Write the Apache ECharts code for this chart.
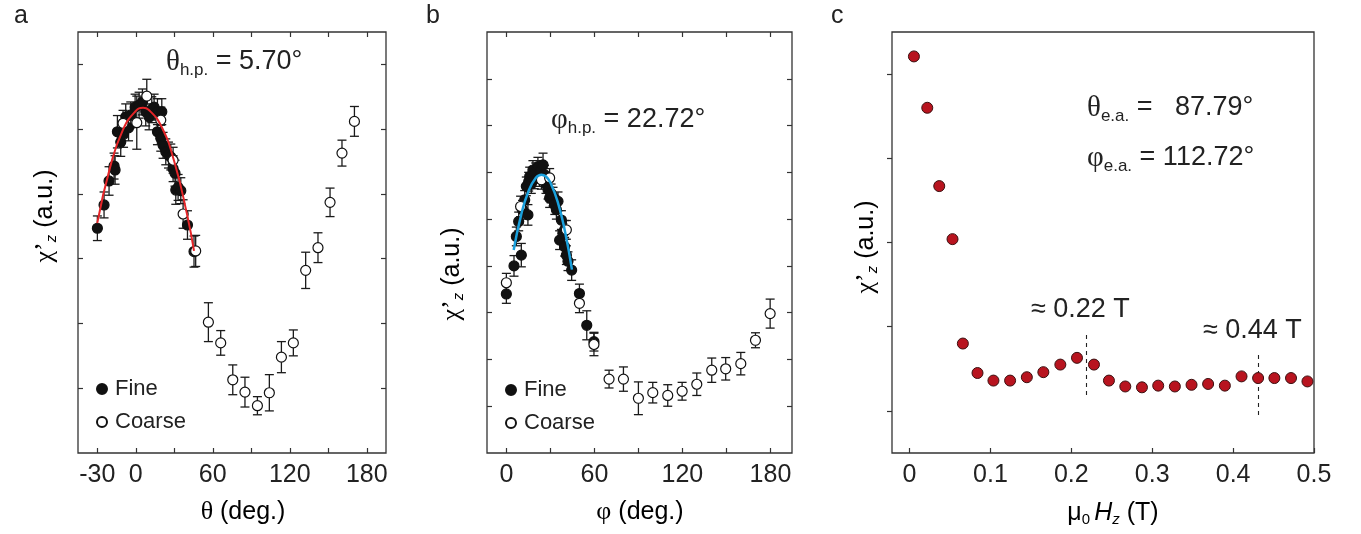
<!DOCTYPE html>
<html><head><meta charset="utf-8">
<script src="https://cdn.jsdelivr.net/npm/echarts@6/dist/echarts.min.js"></script>
<style>html,body{margin:0;padding:0;background:#fff}#c{width:1361px;height:534px}</style>
</head><body><div id="c"></div>
<script>
// ---------- DATA ----------
// panel a: theta scan [theta (deg), chi'z (a.u.), error]
const thetaFine = [[-29.9,3.47,0.19],[-24.7,3.83,0.2],[-20.8,4.20,0.22],[-16.9,4.43,0.2],[-16.1,4.37,0.22],[-14.3,4.96,0.25],[-11.7,4.80,0.22],[-9.5,4.92,0.2],[-7.8,5.19,0.2],[-5.6,5.02,0.2],[-3.9,5.22,0.2],[-0.5,5.34,0.2],[2.6,5.37,0.2],[5.2,5.42,0.2],[7.8,5.27,0.22],[10.4,5.19,0.2],[12.5,5.30,0.2],[14.3,5.34,0.2],[16.9,5.27,0.2],[16.9,4.96,0.2],[19.5,4.86,0.2],[20.3,5.27,0.2],[21.3,4.75,0.2],[23.4,4.65,0.2],[25.5,4.60,0.2],[27.3,4.57,0.2],[29.1,4.39,0.2],[30.6,4.32,0.2],[31.2,4.06,0.22],[33.0,4.10,0.2],[35.1,4.05,0.2],[40.3,3.52,0.22],[45.4,3.11,0.24]];
const thetaCoarse = [[-9.9,5.09,0.2],[0.8,5.10,0.41],[8.6,5.51,0.26],[19.5,5.14,0.2],[29.1,4.52,0.2],[36.9,3.69,0.22],[46.7,3.12,0.24],[56.6,2.02,0.3],[66.2,1.70,0.19],[75.6,1.13,0.23],[85.1,0.94,0.23],[94.8,0.73,0.14],[104.1,0.93,0.28],[113.5,1.48,0.24],[122.8,1.70,0.2],[132.4,2.82,0.28],[142.0,3.17,0.23],[151.4,3.87,0.22],[160.7,4.63,0.2],[170.4,5.12,0.23]];
const thetaFitX = [-30,-20,-10,0,5.7,10,20,30,40,45.4];
const thetaFitY = [3.55,4.41,4.99,5.28,5.33,5.30,5.04,4.50,3.68,3.12];

// panel b: phi scan [phi (deg), chi'z (a.u.), error]
const phiFine = [[0,3.40,0.2],[5.2,4.0,0.22],[6.8,4.63,0.2],[8.4,4.95,0.2],[10.2,4.23,0.25],[11,5.2,0.2],[12.5,5.41,0.2],[13.6,5.70,0.2],[14.7,5.09,0.22],[15.2,5.8,0.2],[15.9,5.91,0.2],[17,5.75,0.2],[18.1,6.05,0.2],[19,5.85,0.2],[20,6.0,0.2],[21.5,6.12,0.2],[22.5,5.9,0.2],[23.5,6.05,0.2],[25.0,6.16,0.25],[26,5.95,0.2],[27,5.75,0.2],[28.4,5.63,0.2],[29.5,5.45,0.2],[30.5,5.55,0.2],[31.8,5.48,0.2],[33,5.3,0.2],[34.1,5.20,0.2],[35.2,5.38,0.2],[36.3,4.55,0.2],[37.5,4.98,0.2],[38.5,4.7,0.2],[39.7,4.77,0.2],[39.7,4.41,0.2],[40.9,4.23,0.2],[42,4.1,0.2],[44.5,3.91,0.22],[49.8,3.41,0.2],[54.8,2.73,0.31],[59.7,2.38,0.2]];
const phiCoarse = [[0,3.64,0.2],[9.7,5.27,0.22],[23.9,5.84,0.2],[29.5,5.88,0.2],[40.9,4.77,0.2],[49.8,3.20,0.2],[59.7,2.32,0.24],[70,1.58,0.19],[79.8,1.58,0.26],[90,1.17,0.35],[99.8,1.29,0.22],[110,1.23,0.23],[119.8,1.32,0.19],[129.8,1.47,0.24],[140,1.77,0.26],[149.5,1.80,0.24],[159.8,1.91,0.24],[169.8,2.41,0.16],[179.8,2.98,0.31]];
const phiFitX = [5,10,15,20,23.9,27,30,35,40,44.7];
const phiFitY = [4.34,5.08,5.59,5.88,5.95,5.91,5.78,5.37,4.73,3.92];

// panel c: field scan
const fieldH = [0.0054,0.0219,0.0367,0.0531,0.0659,0.084,0.1037,0.1243,0.145,0.1654,0.1864,0.207,0.228,0.2465,0.2667,0.2873,0.3074,0.328,0.3486,0.3691,0.3898,0.4104,0.4309,0.451,0.4716,0.4919];
const chiH = [4.71,4.10,3.17,2.54,1.30,0.95,0.86,0.86,0.90,0.96,1.05,1.13,1.05,0.86,0.79,0.78,0.80,0.79,0.81,0.82,0.80,0.91,0.89,0.89,0.89,0.85];
const markH = [0.2185, 0.4309];
const markLow = [0.69, 0.45];
const markHigh = [1.41, 1.17];

// tick labels
const thetaTicks = [-30,0,30,60,90,120,150,180];
const thetaLabels = [-30,0,60,120,180];
const phiTicks = [0,30,60,90,120,150,180];
const phiLabels = [0,60,120,180];
const fieldTicks = [0,0.1,0.2,0.3,0.4,0.5];
const yTicksA = [1,2,3,4,5,6];
const yTicksB = [1,2,3,4,5,6,7,8];
const yTicksC = [0.5,1.5,2.5,3.5,4.5];

// ---------- CHART ----------
const FONT = 'Liberation Sans, Arial, sans-serif';
const SERIF = 'Liberation Serif, Times New Roman, serif';
const INK = '#222';
const chart = echarts.init(document.getElementById('c'), null, {renderer:'canvas'});

function xAx(grid, min, max, ticks, labels, pos, showLabels, inside) {
  return {type:'value', gridIndex:grid, min:min, max:max, position:pos,
    axisLine:{show:false, onZero:false}, splitLine:{show:false},
    axisTick:{show:true, inside:inside, length:5, customValues:ticks, lineStyle:{color:'#333', width:1.2}},
    axisLabel:{show:showLabels, customValues:labels, margin:10, fontSize:25, fontFamily:FONT, color:INK,
      formatter:(v)=>String(v)}};
}
function yAx(grid, min, max, ticks, pos, inside) {
  return {type:'value', gridIndex:grid, min:min, max:max, position:pos,
    axisLine:{show:false, onZero:false}, splitLine:{show:false},
    axisTick:{show:true, inside:inside, length:5, customValues:ticks, lineStyle:{color:'#333', width:1.2}},
    axisLabel:{show:false}};
}
function errSeries(pts, xi, yi) {
  return {type:'custom', xAxisIndex:xi, yAxisIndex:yi, silent:true, z:2,
    data: pts.map(p=>[p[0], p[1]-p[2], p[1]+p[2]]),
    encode:{x:0, y:[1,2]},
    renderItem:(params, api)=>{
      const lo = api.coord([api.value(0), api.value(1)]);
      const hi = api.coord([api.value(0), api.value(2)]);
      const w = 4.5, st = {stroke:'#1a1a1a', lineWidth:1.3};
      return {type:'group', children:[
        {type:'line', shape:{x1:lo[0],y1:lo[1],x2:hi[0],y2:hi[1]}, style:st},
        {type:'line', shape:{x1:lo[0]-w,y1:lo[1],x2:lo[0]+w,y2:lo[1]}, style:st},
        {type:'line', shape:{x1:hi[0]-w,y1:hi[1],x2:hi[0]+w,y2:hi[1]}, style:st}
      ]};
    }};
}
function scat(name, pts, xi, yi, filled, z) {
  return {type:'scatter', name:name, xAxisIndex:xi, yAxisIndex:yi, z:z, symbol:'circle', symbolSize:10,
    data: pts.map(p=>[p[0], p[1]]),
    itemStyle:{color: filled ? '#111' : '#fff', borderColor:'#111', borderWidth:1.2, opacity:1}};
}
function fit(xs, ys, xi, yi, color, w) {
  return {type:'line', xAxisIndex:xi, yAxisIndex:yi, z:6, smooth:true, showSymbol:false, silent:true,
    data: xs.map((x,i)=>[x, ys[i]]), lineStyle:{color:color, width:w}};
}

const baseRich = {
  n:{fontSize:27, fontFamily:FONT, color:INK},
  g:{fontSize:29, fontFamily:SERIF, color:INK},
  s:{fontSize:17, fontFamily:FONT, color:INK, padding:[16,0,0,0]}
};
function txt(x, y, text, rich, extra) {
  return Object.assign({type:'text', x:x, y:y, z:100, silent:true,
    style:{text:text, rich:rich, verticalAlign:'middle', align:'left', fill:INK, font:'27px '+FONT}}, extra||{});
}
const axRich = {
  n:{fontSize:25, fontFamily:FONT, color:INK},
  g:{fontSize:26, fontFamily:SERIF, color:INK},
  i:{fontSize:25, fontFamily:FONT, fontStyle:'italic', color:INK},
  s:{fontSize:15, fontFamily:FONT, color:INK, padding:[14,0,0,0]},
  si:{fontSize:15, fontFamily:FONT, fontStyle:'italic', color:INK, padding:[14,0,0,0]}
};
function ytitle(x, y) {
  return {type:'text', x:x, y:y, rotation:Math.PI/2, z:100, silent:true,
    style:{text:'{g|χ’}{si|z}{n| (a.u.)}', rich:axRich, align:'center', verticalAlign:'middle'}};
}
function xtitle(x, y, text) {
  return {type:'text', x:x, y:y, z:100, silent:true,
    style:{text:text, rich:axRich, align:'center', verticalAlign:'middle'}};
}

const gridStyle = {show:true, borderColor:'#333', borderWidth:1.3, backgroundColor:'transparent', containLabel:false};
const option = {
  animation:false,
  backgroundColor:'#fff',
  grid:[
    Object.assign({left:78, top:32, width:308, height:421}, gridStyle),
    Object.assign({left:487, top:32, width:305, height:421}, gridStyle),
    Object.assign({left:892, top:32, width:422, height:421}, gridStyle)
  ],
  xAxis:[
    xAx(0,-45,195,thetaTicks,thetaLabels,'bottom',true,true),
    xAx(0,-45,195,thetaTicks,thetaLabels,'top',false,true),
    xAx(1,-13.2,194.7,phiTicks,phiLabels,'bottom',true,true),
    xAx(1,-13.2,194.7,phiTicks,phiLabels,'top',false,true),
    xAx(2,-0.0217,0.5,fieldTicks,fieldTicks,'bottom',true,true)
  ],
  yAxis:[
    yAx(0,0,6.5,yTicksA,'left',true),
    yAx(0,0,6.5,yTicksA,'right',true),
    yAx(1,0,9,yTicksB,'left',true),
    yAx(1,0,9,yTicksB,'right',true),
    yAx(2,0,5,yTicksC,'left',false)
  ],
  legend:[
    {left:91, top:372, orient:'vertical', data:['Fine','Coarse'], icon:'circle', itemWidth:10, itemHeight:10, itemGap:9, selectedMode:false,
      textStyle:{fontSize:22, fontFamily:FONT, color:INK, lineHeight:24, padding:[0,0,0,3]}},
    {left:500, top:373, orient:'vertical', data:['Fine','Coarse'], icon:'circle', itemWidth:10, itemHeight:10, itemGap:9, selectedMode:false,
      textStyle:{fontSize:22, fontFamily:FONT, color:INK, lineHeight:24, padding:[0,0,0,3]}}
  ],
  series:[
    errSeries(thetaFine,0,0), errSeries(thetaCoarse,0,0),
    scat('Fine', thetaFine, 0, 0, true, 3), scat('Coarse', thetaCoarse, 0, 0, false, 4),
    fit(thetaFitX, thetaFitY, 0, 0, '#e52528', 2),
    errSeries(phiFine,2,2), errSeries(phiCoarse,2,2),
    scat('Fine', phiFine, 2, 2, true, 3), scat('Coarse', phiCoarse, 2, 2, false, 4),
    fit(phiFitX, phiFitY, 2, 2, '#1aa0dc', 2.5),
    {type:'scatter', name:'field', xAxisIndex:4, yAxisIndex:4, z:5, symbol:'circle', symbolSize:11,
      data: fieldH.map((h,i)=>[h, chiH[i]]),
      itemStyle:{color:'#b8141f', borderColor:'#3b1010', borderWidth:1, opacity:1},
      markLine:{silent:true, symbol:['none','none'], label:{show:false},
        lineStyle:{type:[4,4], color:'#222', width:1.1},
        data: markH.map((h,i)=>[{coord:[h, markLow[i]]},{coord:[h, markHigh[i]]}])}}
  ],
  graphic:[
    {type:'text', x:14, y:16, style:{text:'a', font:'25px '+FONT, fill:INK, verticalAlign:'middle'}},
    {type:'text', x:426, y:16, style:{text:'b', font:'25px '+FONT, fill:INK, verticalAlign:'middle'}},
    {type:'text', x:831, y:16, style:{text:'c', font:'25px '+FONT, fill:INK, verticalAlign:'middle'}},
    txt(166, 62, '{g|θ}{s|h.p.}{n| = 5.70°}', baseRich),
    txt(551, 120, '{g|φ}{s|h.p.}{n| = 22.72°}', baseRich),
    txt(1087, 108, '{g|θ}{s|e.a.}{n| =   87.79°}', baseRich),
    txt(1087, 158, '{g|φ}{s|e.a.}{n| = 112.72°}', baseRich),
    txt(1031, 310, '{n|≈ 0.22 T}', baseRich),
    txt(1203, 331, '{n|≈ 0.44 T}', baseRich),
    ytitle(45, 216), ytitle(452, 274), ytitle(866, 247),
    xtitle(243, 512, '{g|θ}{n| (deg.)}'),
    xtitle(640, 512, '{g|φ}{n| (deg.)}'),
    xtitle(1113, 513, '{n|μ}{s|0 }{i|H}{si|z}{n| (T)}')
  ]
};
chart.setOption(option);
</script></body></html>
